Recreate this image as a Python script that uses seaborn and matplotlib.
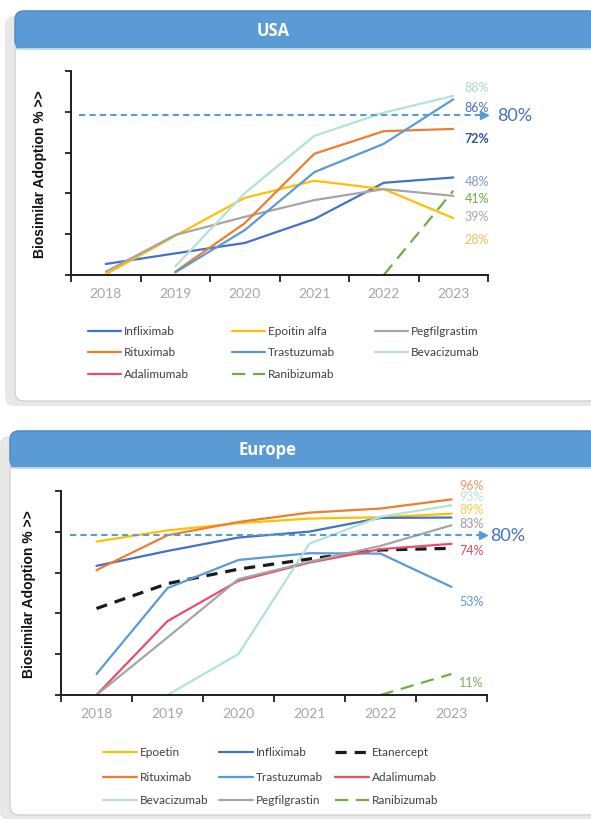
import matplotlib
matplotlib.use("Agg")
from matplotlib import pyplot as plt
from matplotlib.patches import FancyBboxPatch, Rectangle
import seaborn as sns
import numpy as np
import pandas as pd

nan = np.nan
years = [2018, 2019, 2020, 2021, 2022, 2023]

# USA series (% biosimilar adoption)
usa_names = ["Infliximab", "Epoitin alfa", "Pegfilgrastim", "Rituximab",
             "Trastuzumab", "Bevacizumab", "Adalimumab", "Ranibizumab"]
usa_infliximab = [5.4, 10.6, 15.7, 27.4, 45.2, 47.8]
usa_epoitin = [0.3, 19.2, 37.8, 46.2, 42.1, 27.9]
usa_pegfilgrastim = [1.6, 19.6, 28.5, 36.7, 42.1, 38.8]
usa_rituximab = [nan, 1.6, 25.4, 59.4, 70.5, 71.6]
usa_trastuzumab = [nan, 1.3, 22.0, 50.4, 64.3, 86.1]
usa_bevacizumab = [nan, 4.2, 40.1, 68.2, 79.6, 87.8]
usa_adalimumab = [nan, nan, nan, nan, nan, nan]
usa_ranibizumab = [nan, nan, nan, nan, 0.0, 41.3]
usa_end_labels = ["88%", "86%", "72%", "48%", "41%", "39%", "28%"]

# Europe series
eu_names = ["Epoetin", "Infliximab", "Etanercept", "Rituximab", "Trastuzumab",
            "Adalimumab", "Bevacizumab", "Pegfilgrastin", "Ranibizumab"]
eu_epoetin = [75.2, 80.7, 84.2, 86.5, 87.1, 88.9]
eu_infliximab = [63.3, 70.6, 77.2, 80.1, 86.8, 87.0]
eu_etanercept = [42.4, 54.6, 61.7, 66.7, 71.1, 71.9]
eu_rituximab = [61.2, 78.3, 84.8, 89.4, 91.4, 95.9]
eu_trastuzumab = [10.3, 52.4, 66.2, 69.5, 69.3, 53.0]
eu_adalimumab = [0.0, 36.2, 56.0, 64.9, 71.5, 74.1]
eu_bevacizumab = [nan, 0.0, 20.1, 74.2, 87.4, 93.0]
eu_pegfilgrastin = [0.0, 28.2, 56.8, 65.3, 73.1, 83.2]
eu_ranibizumab = [nan, nan, nan, nan, 0.0, 10.3]
eu_end_labels = ["96%", "93%", "89%", "83%", "74%", "53%", "11%"]

target_label = "80%"
target_level = 78.5

colors = {
    "Infliximab": "#4472C4", "Epoitin alfa": "#FFC000", "Epoetin": "#FFC000",
    "Pegfilgrastim": "#A5A5A5", "Pegfilgrastin": "#A5A5A5",
    "Rituximab": "#ED7D31", "Trastuzumab": "#5B9BD5", "Bevacizumab": "#B2E3D4",
    "Adalimumab": "#E8506A", "Ranibizumab": "#70AD47", "Etanercept": "#1A1A1A",
}
dashed = {"Ranibizumab": (0, (6, 3.5)), "Etanercept": (0, (3.5, 2.5))}
widths = {"Etanercept": 2.3}

sns.set_style("ticks")
plt.rcParams["font.family"] = ["Lato", "DejaVu Sans"]

W, H = 591, 820
fig = plt.figure(figsize=(W / 100, H / 100), dpi=100)
bg = fig.add_axes([0, 0, 1, 1], zorder=0)
bg.set_xlim(0, W)
bg.set_ylim(H, 0)
bg.axis("off")


def card(x0, y0, x1, y1, head_h, title, title_x):
    bg.add_patch(FancyBboxPatch((x0 - 10, y0 + 5), x1 - x0 + 30, y1 - y0,
                                boxstyle="round,pad=0,rounding_size=9",
                                fc="#E8E8E8", ec="none"))
    bg.add_patch(FancyBboxPatch((x0, y0), x1 - x0, y1 - y0,
                                boxstyle="round,pad=0,rounding_size=9",
                                fc="white", ec="#D2D2D2", lw=1))
    bg.add_patch(FancyBboxPatch((x0, y0), x1 - x0, head_h,
                                boxstyle="round,pad=0,rounding_size=9",
                                fc="#5B9BD5", ec="#4F88C0", lw=1))
    bg.add_patch(Rectangle((x0 + 0.5, y0 + head_h - 12), x1 - x0 - 1, 12,
                           fc="#5B9BD5", ec="none"))
    bg.plot([x0, x1], [y0 + head_h, y0 + head_h], color="#CFE0F0", lw=1.2)
    bg.text(title_x, y0 + head_h / 2, title, color="white", fontsize=12,
            fontweight="bold", ha="center", va="center", family="Open Sans")


def px_axes(left, top, right, bottom):
    return fig.add_axes([left / W, 1 - bottom / H, (right - left) / W, (bottom - top) / H],
                        zorder=2, facecolor="none")


def draw_panel(ax, names, series, end_labels, label_ys, label_colors, label_x,
               target_text_x, ylabel_x, ylabel_y):
    for name, vals in zip(names, series):
        df = pd.DataFrame({"year": years, "pct": vals}).dropna()
        if df.empty:
            continue
        sns.lineplot(data=df, x="year", y="pct", ax=ax, color=colors[name],
                     linewidth=widths.get(name, 1.6),
                     linestyle=dashed.get(name, "-"), clip_on=False)
    ax.set_xlim(2017.5, 2023.5)
    ax.set_ylim(0, 100)
    ax.set_xlabel("")
    ax.set_ylabel("")
    ax.set_xticks(years)
    ax.set_xticklabels([str(y) for y in years])
    ax.set_xticks(np.arange(2017.5, 2024, 1), minor=True)
    ax.set_yticks(np.arange(0, 101, 20))
    ax.set_yticklabels([])
    ax.tick_params(axis="x", which="major", length=0, pad=9, labelsize=10,
                   labelcolor="#A6A6A6")
    ax.tick_params(axis="x", which="minor", length=5, width=1.3, color="#1F1F1F",
                   direction="out")
    ax.tick_params(axis="y", length=4, width=1.3, color="#1F1F1F", direction="out")
    for side in ["top", "right"]:
        ax.spines[side].set_visible(False)
    for side in ["left", "bottom"]:
        ax.spines[side].set_color("#1F1F1F")
        ax.spines[side].set_linewidth(1.4)

    # 80% target arrow
    ax.plot([2017.62, 2023.42], [target_level, target_level], linestyle=(0, (3, 2)),
            color="#5B9BD5", lw=1.5, clip_on=False)
    ax.plot([2023.44], [target_level], marker=">", ms=6, color="#5B9BD5",
            clip_on=False)
    ax.text(target_text_x, target_level, target_label, color="#4472C4", fontsize=13,
            ha="left", va="center", clip_on=False)

    for txt, y, c in zip(end_labels, label_ys, label_colors):
        weight = "bold" if c == "#2F5597" else "normal"
        ax.text(label_x, y, txt, color=c, fontsize=9, ha="center", va="center",
                fontweight=weight, clip_on=False)

    bg.text(ylabel_x, ylabel_y, "Biosimilar Adoption % >>", rotation=90,
            ha="center", va="center", fontsize=10, fontweight="bold",
            family="Liberation Sans", color="#111111")


def draw_legend(names, col_x, row_y, line_len, text_gap):
    for i, name in enumerate(names):
        x = col_x[i % 3]
        y = row_y[i // 3]
        bg.plot([x, x + line_len], [y, y], color=colors[name],
                lw=widths.get(name, 1.6), linestyle=dashed.get(name, "-"))
        bg.text(x + line_len + text_gap, y, name, fontsize=8.5, color="#404040",
                ha="left", va="center")


# USA panel
card(15, 12, 597, 402, 38, "USA", 273)
ax1 = px_axes(71, 72, 488, 276)
draw_panel(ax1, usa_names,
           [usa_infliximab, usa_epoitin, usa_pegfilgrastim, usa_rituximab,
            usa_trastuzumab, usa_bevacizumab, usa_adalimumab, usa_ranibizumab],
           usa_end_labels,
           [92.3, 82.5, 67.2, 46.2, 37.8, 29.0, 17.6],
           ["#A8DCC8", "#4472C4", "#2F5597", "#8097C8", "#70AD47", "#AAAAAA", "#EDC15F"],
           2023.34, 2023.63, 40, 174)
draw_legend(usa_names, [88, 232, 375], [332, 353, 375], 33, 3)

# Europe panel
card(10, 432, 597, 816, 37, "Europe", 268)
ax2 = px_axes(61, 492, 487, 696)
draw_panel(ax2, eu_names,
           [eu_epoetin, eu_infliximab, eu_etanercept, eu_rituximab, eu_trastuzumab,
            eu_adalimumab, eu_bevacizumab, eu_pegfilgrastin, eu_ranibizumab],
           eu_end_labels,
           [102.9, 97.4, 91.4, 84.5, 71.0, 46.0, 6.5],
           ["#EE9A6A", "#B8E6D9", "#FFCB4A", "#9A9A9A", "#E0505F", "#5B9BD5", "#7FAF5F"],
           2023.28, 2023.55, 29, 594)
draw_legend(eu_names, [103, 219, 335], [753, 778, 801], 34, 3)

fig.savefig("out.png", dpi=100)
